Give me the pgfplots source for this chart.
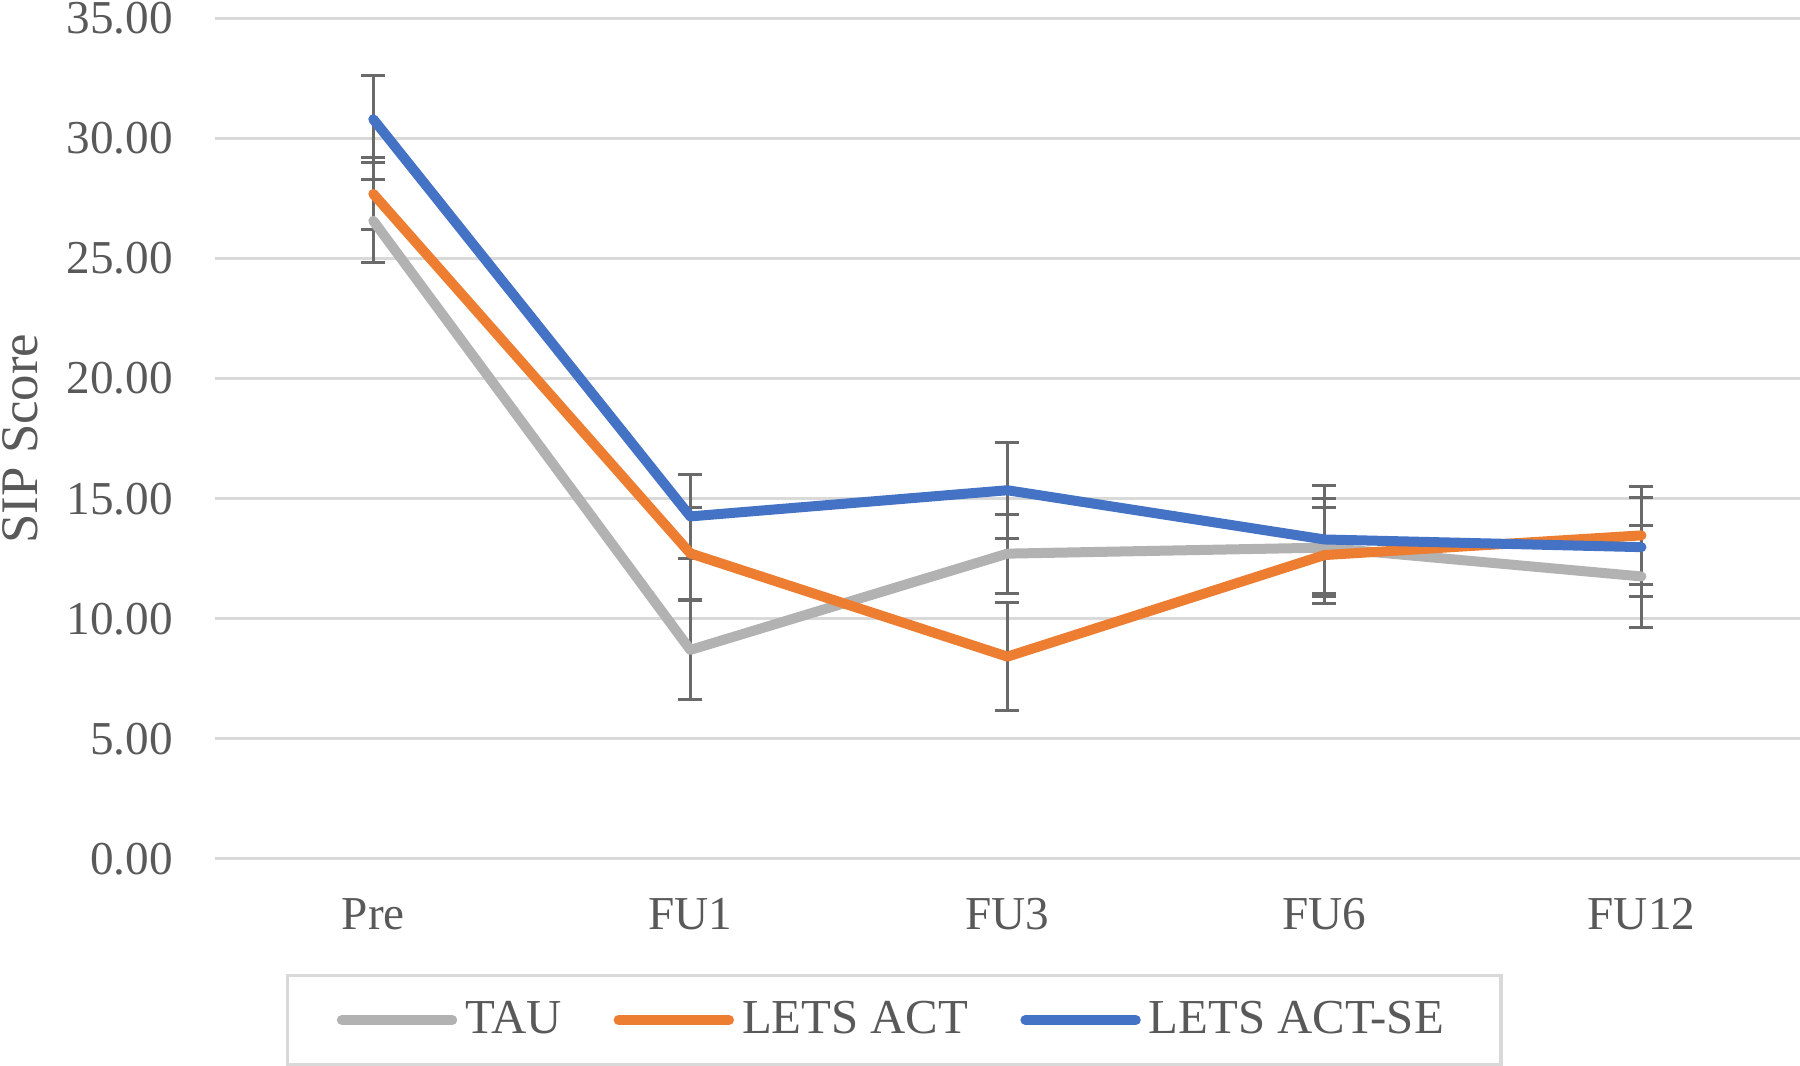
\documentclass[border=0pt]{standalone}
\usepackage{pgfplots}
\pgfplotsset{compat=1.18}
\usepackage{fontspec}
\setmainfont{Liberation Serif}
\definecolor{cgray}{HTML}{B2B2B2}
\definecolor{corange}{HTML}{ED7D31}
\definecolor{cblue}{HTML}{4472C4}
\definecolor{errgray}{HTML}{6A6A6A}
\definecolor{gridgray}{HTML}{D9D9D9}
\definecolor{txt}{HTML}{595959}
\begin{document}
\begin{tikzpicture}
\begin{axis}[
  at={(0,0)}, anchor=south west,
  scale only axis, width=396.3pt, height=210.1pt,
  xmin=-0.5, xmax=4.5, ymin=0, ymax=35,
  axis x line*=bottom, axis y line*=left,
  axis line style={draw=none},
  xtick={0,1,2,3,4}, xticklabels={Pre,FU1,FU3,FU6,FU12},
  ytick={0,5,...,35},
  ymajorgrids, grid style={gridgray, line width=0.7pt},
  major tick length=0pt, tick style={draw=none},
  /pgf/number format/.cd, fixed, fixed zerofill, precision=2, assume math mode=true,
  /pgfplots/.cd,
  tick label style={font=\fontsize{11.8}{14}\selectfont, text=txt},
  yticklabel style={xshift=-7pt},
  xticklabel style={yshift=-6.3pt},
  ylabel={SIP Score},
  every axis y label/.style={at={(axis description cs:-0.1224,0.5)}, rotate=90, anchor=center, font=\fontsize{13.2}{15}\selectfont, text=txt},
  legend columns=3,
  legend style={at={(axis description cs:0.4287,0)}, anchor=center, yshift=-40.3pt,
    draw=gridgray, line width=0.8pt, font=\fontsize{12.2}{15}\selectfont, text=txt,
    inner xsep=12.3pt, inner ysep=4.4pt,
    /tikz/every even column/.append style={column sep=11pt}},
  legend image code/.code={\draw[#1, line cap=round] (0pt,0pt) -- (27.6pt,0pt);},
  legend cell align=left,
  clip=false,
]
% error bars first
\addplot[draw=none, mark=none, forget plot,
  error bars/.cd, y dir=both, y explicit,
  error bar style={draw=errgray, line width=0.75pt},
  error mark options={rotate=90, mark size=3pt, draw=errgray, line width=0.75pt}]
  coordinates {(0,26.57) +- (0,1.73) (1,8.70) +- (0,2.05) (2,12.71) +- (0,1.64) (3,12.96) +- (0,2.05) (4,11.76) +- (0,2.12)};
\addplot[draw=none, mark=none, forget plot,
  error bars/.cd, y dir=both, y explicit,
  error bar style={draw=errgray, line width=0.75pt},
  error mark options={rotate=90, mark size=3pt, draw=errgray, line width=0.75pt}]
  coordinates {(0,27.69) +- (0,1.50) (1,12.72) +- (0,1.92) (2,8.42) +- (0,2.26) (3,12.65) +- (0,2.00) (4,13.47) +- (0,2.04)};
\addplot[draw=none, mark=none, forget plot,
  error bars/.cd, y dir=both, y explicit,
  error bar style={draw=errgray, line width=0.75pt},
  error mark options={rotate=90, mark size=3pt, draw=errgray, line width=0.75pt}]
  coordinates {(0,30.80) +- (0,1.82) (1,14.26) +- (0,1.76) (2,15.35) +- (0,2.00) (3,13.30) +- (0,2.25) (4,12.98) +- (0,2.05)};
% lines
\addplot[cgray, line width=2.5pt, line cap=round, line join=round, mark=none]
  coordinates {(0,26.57) (1,8.70) (2,12.71) (3,12.96) (4,11.76)};
\addlegendentry{TAU}
\addplot[corange, line width=2.5pt, line cap=round, line join=round, mark=none]
  coordinates {(0,27.69) (1,12.72) (2,8.42) (3,12.65) (4,13.47)};
\addlegendentry{LETS ACT}
\addplot[cblue, line width=2.5pt, line cap=round, line join=round, mark=none]
  coordinates {(0,30.80) (1,14.26) (2,15.35) (3,13.30) (4,12.98)};
\addlegendentry{LETS ACT-SE}
\end{axis}
\pgfresetboundingbox
\path (-53.7pt,-51.6pt) rectangle (396.3pt,214.7pt);
\end{tikzpicture}
\end{document}
